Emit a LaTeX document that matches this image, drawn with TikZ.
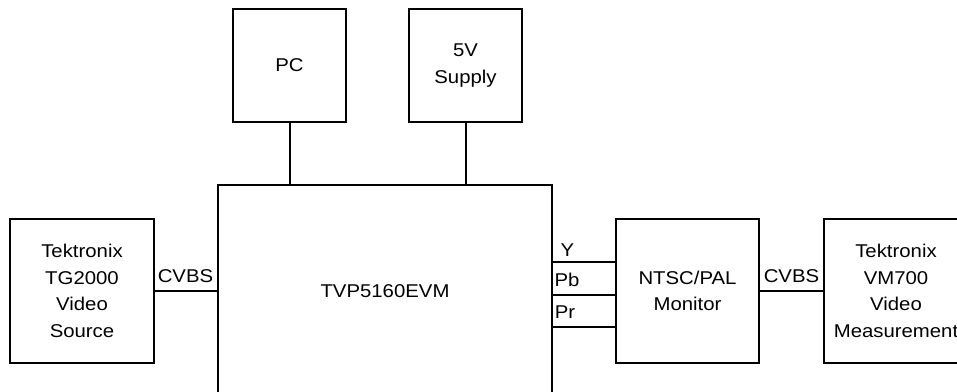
\documentclass[tikz,border=0pt]{standalone}
\usepackage{fontspec}
\setmainfont{Liberation Sans}[FakeStretch=1.1]
\usetikzlibrary{positioning}

\begin{document}
\begin{tikzpicture}[x=1pt,y=-1pt,line width=2pt,
  every node/.style={font=\fontsize{18.5}{26.5}\selectfont},
  box/.style={draw,rectangle,align=center,inner sep=0pt,minimum width=#1,minimum height=144pt},
  box/.default=144pt,
  lbl/.style={inner sep=0pt}]
  \useasboundingbox (0,0) rectangle (957,391);

  \node[box=113pt,minimum height=113pt] (pc) at (289.5,65.5) {PC};
  \node[box=113pt,minimum height=113pt] (supply) at (465.5,65.5) {5V\\Supply};
  \node[box=334pt,minimum height=212pt] (evm) at (385,291) {TVP5160EVM};
  \node[box] (tg) at (82,291) {Tektronix\\TG2000\\Video\\Source};
  \node[box=143pt] (mon) at (687.5,291) {NTSC/PAL\\Monitor};
  \node[box] (vm) at (896,291) {Tektronix\\VM700\\Video\\Measurement};

  \node[lbl] (cvbsin) at (185.5,276.5) {CVBS};
  \node[lbl] (cvbsout) at (791.5,276.5) {CVBS};
  \node[lbl] (ylbl) at (567.5,250.5) {Y};
  \node[lbl] (pblbl) at (567,280) {Pb};
  \node[lbl] (prlbl) at (565,312) {Pr};

  \foreach \from/\to in {pc/evm, supply/evm}
    \draw (\from.south) -- (\from.south |- \to.north);
  \foreach \from/\to in {tg/evm, mon/vm}
    \draw (\from.east) -- (\from.east -| \to.west);
  \foreach \dy in {29,-4,-36}
    \draw ([yshift=\dy pt]mon.west -| evm.east) -- ([yshift=\dy pt]mon.west);

\end{tikzpicture}
\end{document}
